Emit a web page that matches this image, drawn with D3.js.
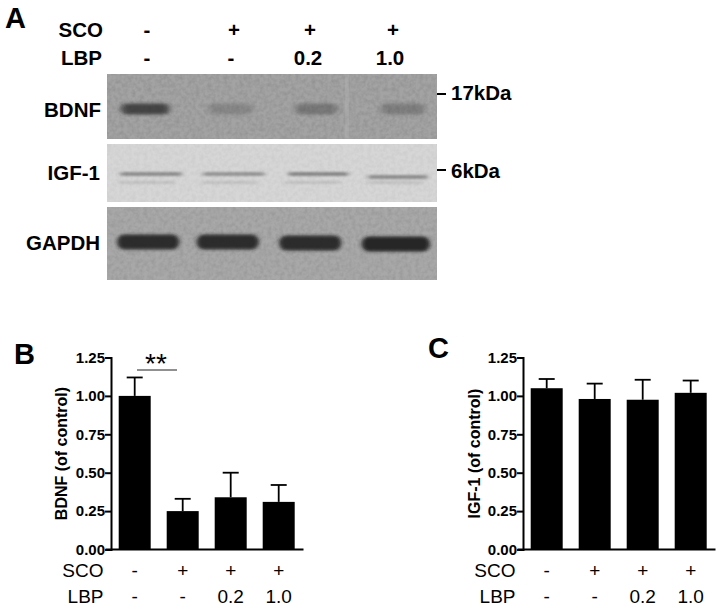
<!DOCTYPE html>
<html><head><meta charset="utf-8">
<script src="https://cdn.jsdelivr.net/npm/d3@7"></script>
<style>
html,body{margin:0;padding:0;background:#fff}
svg{display:block}
text{font-family:"Liberation Sans",Arial,sans-serif;fill:#000}
</style></head><body>
<svg id="c" width="721" height="608"></svg>
<script>
const lanes = ["a","b","c","d"];
const scoLabels = ["-","+","+","+"];
const lbpLabels = ["-","-","0.2","1.0"];
const yTicks = [0,0.25,0.5,0.75,1,1.25];
const bdnfMean = [1.00,0.25,0.34,0.31];
const bdnfTop  = [1.12,0.33,0.50,0.42];
const igfMean  = [1.05,0.98,0.975,1.02];
const igfTop   = [1.11,1.08,1.105,1.10];
const bdnfBlot = [0.72,0.2,0.32,0.27];
const igfBlot  = [0.42,0.38,0.46,0.42];
const gapdhBlot= [0.88,0.88,0.88,0.92];

const svg = d3.select("#c");
const defs = svg.append("defs");
const soft = (id,sx,sy)=>defs.append("filter").attr("id",id)
  .attr("x","-30%").attr("y","-100%").attr("width","160%").attr("height","300%")
  .append("feGaussianBlur").attr("stdDeviation",sx+" "+sy);
soft("b1",2.5,1.1); soft("b2",3,1.8); soft("b3",2,1.6);
defs.append("filter").attr("id","grain").attr("x",0).attr("y",0).attr("width","100%").attr("height","100%")
  .call(f=>{
    f.append("feTurbulence").attr("type","fractalNoise").attr("baseFrequency","0.25").attr("numOctaves",3).attr("seed",4);
    f.append("feColorMatrix").attr("values","0 0 0 0 0  0 0 0 0 0  0 0 0 0 0  0.5 0 0 0 -0.17");
  });

/* ---------- panel A ---------- */
const laneX = d3.scaleBand().domain(lanes).range([107,437]);
const ink = d3.scaleLinear().domain([0,1]).range([0,1]);
function blot(y0,y1,bg,values,opts){
  const g = svg.append("g");
  g.append("rect").attr("x",107).attr("y",y0).attr("width",330).attr("height",y1-y0).attr("fill",bg);
  g.append("rect").attr("x",107).attr("y",y0).attr("width",330).attr("height",y1-y0)
    .attr("filter","url(#grain)").attr("opacity",opts.grain);
  const clipId="clip"+y0;
  defs.append("clipPath").attr("id",clipId).append("rect").attr("x",107).attr("y",y0).attr("width",330).attr("height",y1-y0);
  const b = g.append("g").attr("clip-path","url(#"+clipId+")");
  b.selectAll("rect.band").data(values).join("rect").attr("class","band")
    .attr("x",(d,i)=>laneX(lanes[i])+laneX.bandwidth()/2-opts.w[i]/2+opts.dx[i])
    .attr("y",(d,i)=>opts.cy+(opts.dy?opts.dy[i]:0)-opts.h/2)
    .attr("width",(d,i)=>opts.w[i]).attr("height",opts.h).attr("rx",opts.rx)
    .attr("fill",opts.col).attr("opacity",d=>ink(d)).attr("filter","url(#"+opts.blur+")");
  return b;
}
const b1 = blot(74,139,"#a3a3a3",bdnfBlot,{grain:.35,cy:109,w:[48,44,42,44],h:11,rx:5,col:"#222",blur:"b2",dx:[-3,0,3,7]});
b1.append("rect").attr("x",346).attr("y",74).attr("width",2).attr("height",65).attr("fill","#c0c0c0").attr("opacity",.7).attr("filter","url(#b3)");
const b2 = blot(144,202,"#d6d6d6",igfBlot,{grain:.15,cy:174,w:[62,62,60,60],h:4,rx:2,col:"#333",blur:"b1",dx:[3,3,5,2],dy:[0,0,0,3]});
b2.selectAll("rect.ghost").data(igfBlot).join("rect").attr("class","ghost")
  .attr("x",(d,i)=>laneX(lanes[i])+12).attr("y",181).attr("width",56).attr("height",3)
  .attr("fill","#555").attr("opacity",.15).attr("filter","url(#b1)");
blot(207,280,"#a8a8a8",gapdhBlot,{grain:.3,cy:243,w:[62,62,62,68],h:15,rx:7,col:"#1c1c1c",blur:"b3",dx:[0,-3,-3,0],dy:[-1,-1,0,1]});

const topTxt=(x,y,t,anchor,size)=>svg.append("text").attr("x",x).attr("y",y).attr("text-anchor",anchor||"middle")
  .attr("font-weight","bold").attr("font-size",size||20.5).text(t);
topTxt(103,37,"SCO","end"); topTxt(102,65,"LBP","end");
const topX=[147,234,310,393];
scoLabels.forEach((t,i)=>topTxt(topX[i],37,t));
const topX2=[147,231,308,390];
lbpLabels.forEach((t,i)=>topTxt(topX2[i],65,t));
topTxt(101,117,"BDNF","end"); topTxt(100,180,"IGF-1","end"); topTxt(100,250,"GAPDH","end");
[[94,100,"17kDa"],[170,178,"6kDa"]].forEach(([ty,by,t])=>{
  svg.append("line").attr("x1",437).attr("x2",446).attr("y1",ty).attr("y2",ty).attr("stroke","#000").attr("stroke-width",2);
  topTxt(451,by,t,"start");
});
topTxt(5,28,"A","start",29); topTxt(14,364,"B","start",29); topTxt(428,358,"C","start",29);

/* ---------- panels B, C ---------- */
function panel(ox,means,tops,title,titleX){
  const g = svg.append("g");
  const x = d3.scaleBand().domain(lanes).range([ox-0.8,ox+191.2]).paddingInner(1/3).paddingOuter(1/6);
  const y = d3.scaleLinear().domain([0,1.25]).range([549.5,357.5]);
  g.selectAll("line.err").data(tops).join("line").attr("class","err")
    .attr("x1",(d,i)=>x(lanes[i])+x.bandwidth()/2).attr("x2",(d,i)=>x(lanes[i])+x.bandwidth()/2)
    .attr("y1",(d,i)=>y(means[i])).attr("y2",d=>y(d)).attr("stroke","#000").attr("stroke-width",1.8);
  g.selectAll("line.cap").data(tops).join("line").attr("class","cap")
    .attr("x1",(d,i)=>x(lanes[i])+x.bandwidth()/2-8).attr("x2",(d,i)=>x(lanes[i])+x.bandwidth()/2+8)
    .attr("y1",d=>y(d)).attr("y2",d=>y(d)).attr("stroke","#000").attr("stroke-width",1.8);
  g.selectAll("rect").data(means).join("rect")
    .attr("x",(d,i)=>x(lanes[i])).attr("width",x.bandwidth())
    .attr("y",d=>y(d)).attr("height",d=>y(0)-y(d)).attr("fill","#000");
  const ya = g.append("g").attr("transform",`translate(${ox-0.5},0)`)
    .call(d3.axisLeft(y).tickValues(yTicks).tickFormat(d3.format(".2f")).tickSize(6).tickPadding(0));
  ya.selectAll("path,line").attr("stroke","#000").attr("stroke-width",2);
  ya.selectAll("text").attr("font-size",15).attr("font-weight","bold").attr("font-family",'"Liberation Sans"').attr("fill","#000");
  const xa = g.append("g").attr("transform","translate(0,549.5)");
  xa.append("line").attr("x1",ox-6).attr("x2",ox+192).attr("stroke","#000").attr("stroke-width",2);
  g.append("text").attr("transform",`translate(${titleX},453.5) rotate(-90)`).attr("text-anchor","middle")
    .attr("font-size",16).attr("font-weight","bold").text(title);
  const lab=(xx,yy,t,a)=>g.append("text").attr("x",xx).attr("y",yy).attr("text-anchor",a||"middle").attr("font-size",19).text(t);
  lab(ox-8,577,"SCO","end"); lab(ox-8,603,"LBP","end");
  lanes.forEach((l,i)=>{
    const cx=x(l)+x.bandwidth()/2;
    lab(cx,577,scoLabels[i]); lab(cx,603,lbpLabels[i]);
  });
  return {x,y,g};
}
const pB = panel(111.5,bdnfMean,bdnfTop,"BDNF (of control)",67);
panel(523.5,igfMean,igfTop,"IGF-1 (of control)",480);
pB.g.append("line").attr("x1",137).attr("x2",177).attr("y1",370).attr("y2",370).attr("stroke","#222").attr("stroke-width",1.2);
pB.g.append("text").attr("x",156).attr("y",373).attr("text-anchor","middle").attr("font-size",28).attr("fill","#222").text("**");
</script></body></html>
